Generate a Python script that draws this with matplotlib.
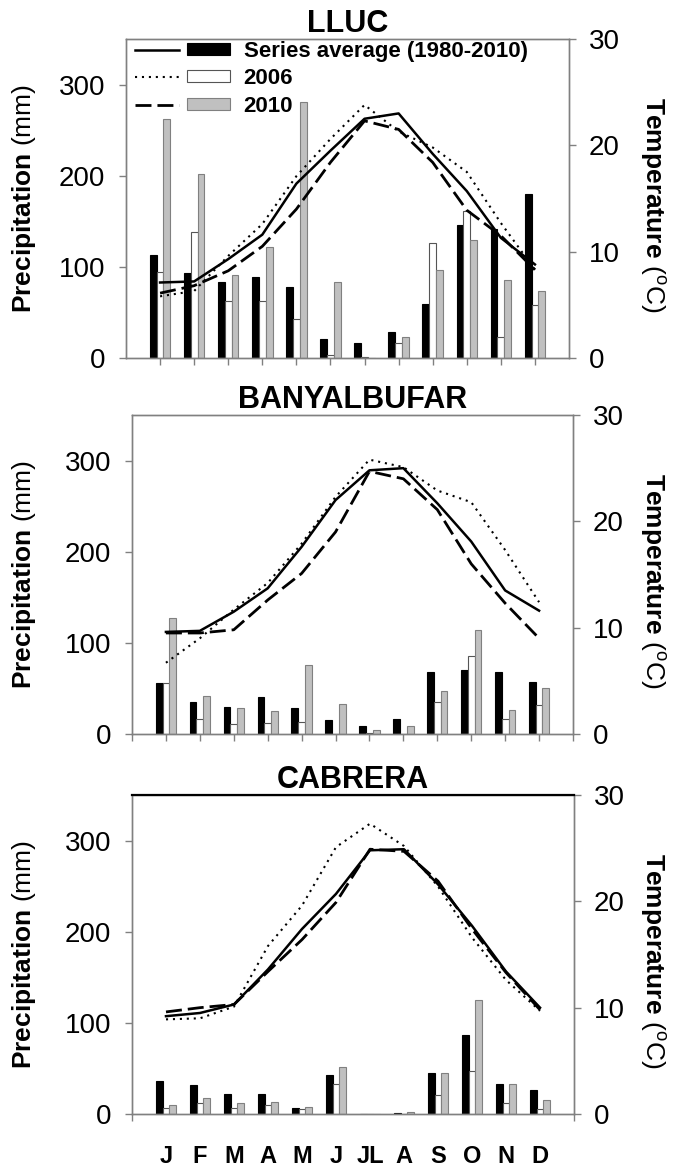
import numpy as np
import matplotlib
matplotlib.use("Agg")
import matplotlib.pyplot as plt
from matplotlib.patches import Patch
from matplotlib.lines import Line2D
from matplotlib.legend_handler import HandlerTuple

plt.rcParams['font.family'] = ['Liberation Sans', 'DejaVu Sans']
plt.rcParams['mathtext.fontset'] = 'custom'
plt.rcParams['mathtext.rm'] = 'Liberation Sans'
plt.rcParams['mathtext.bf'] = 'Liberation Sans:bold'
plt.rcParams['mathtext.it'] = 'Liberation Sans:italic'

months = ['J', 'F', 'M', 'A', 'M', 'J', 'JL', 'A', 'S', 'O', 'N', 'D']
stations = ['LLUC', 'BANYALBUFAR', 'CABRERA']
series_labels = ['Series average (1980-2010)', '2006', '2010']

# Precipitation (mm)
lluc_avg_p = [113, 93, 83, 89, 78, 21, 16, 29, 59, 146, 141, 180]
lluc_2006_p = [94, 138, 63, 62, 43, 3, 1, 17, 126, 161, 23, 58]
lluc_2010_p = [262, 202, 91, 122, 281, 83, 0.5, 23, 97, 129, 86, 74]
ban_avg_p = [56, 35, 30, 41, 28.5, 15, 9, 16.5, 68, 70.5, 68, 57.5]
ban_2006_p = [56, 17, 11, 12, 13.5, 0, 1, 0, 35, 85.5, 17, 31.5]
ban_2010_p = [127, 42, 28, 25, 76, 32.5, 4, 9, 47, 114.5, 26, 51]
cab_avg_p = [36, 32, 22.4, 21.7, 6.2, 43, 0, 1, 44.8, 86.3, 33, 26.8]
cab_2006_p = [7, 12, 7, 9.5, 5.5, 33, 0, 0, 20.6, 47, 12.5, 5]
cab_2010_p = [9.5, 18, 12.5, 13.6, 7.3, 51.4, 0, 1.8, 44.8, 124.9, 33, 15.8]

# Temperature (C)
lluc_avg_t = [7.1, 7.2, 9.3, 11.6, 16.4, 19.5, 22.5, 23.0, 19.2, 15.7, 11.3, 8.8]
lluc_2006_t = [5.8, 6.3, 9.6, 12.6, 17.1, 20.6, 23.8, 21.3, 19.8, 17.5, 12.7, 8.3]
lluc_2010_t = [6.1, 6.8, 8.2, 10.5, 14.0, 18.4, 22.3, 21.5, 18.4, 13.9, 11.5, 8.3]
ban_avg_t = [9.6, 9.7, 11.5, 13.7, 17.6, 22.0, 24.8, 25.0, 21.7, 18.1, 13.5, 11.6]
ban_2006_t = [6.7, 9.0, 11.7, 14.2, 17.9, 22.3, 25.8, 25.1, 22.9, 21.8, 17.3, 12.4]
ban_2010_t = [9.5, 9.5, 9.8, 12.6, 15.1, 19.0, 24.7, 24.0, 21.1, 16.0, 12.3, 9.0]
cab_avg_t = [9.2, 9.5, 10.3, 13.6, 17.4, 20.7, 24.8, 24.9, 21.6, 17.7, 13.4, 10.0]
cab_2006_t = [8.9, 9.0, 10.1, 15.8, 19.6, 25.1, 27.3, 25.2, 21.4, 16.6, 12.6, 9.7]
cab_2010_t = [9.6, 10.0, 10.3, 13.4, 16.4, 19.9, 24.9, 24.7, 21.9, 17.4, 13.3, 9.8]

precip = [(lluc_avg_p, lluc_2006_p, lluc_2010_p),
          (ban_avg_p, ban_2006_p, ban_2010_p),
          (cab_avg_p, cab_2006_p, cab_2010_p)]
temps = [(lluc_avg_t, lluc_2006_t, lluc_2010_t),
         (ban_avg_t, ban_2006_t, ban_2010_t),
         (cab_avg_t, cab_2006_t, cab_2010_t)]

W, H = 674, 1166
fig = plt.figure(figsize=(W / 100, H / 100), dpi=100)

# axes boxes in pixels: left, right, top, bottom
boxes = [(126, 569, 39, 358), (132, 573, 415, 734), (132, 574, 795, 1114)]

spine_col = '#808080'
x = np.arange(1, 13)
bw = 0.2
dot_style = dict(color='black', lw=1.5, dashes=(1, 2.33))
dash_style = dict(color='black', lw=2.0, dashes=(5.75, 2.15))
solid_style = dict(color='black', lw=1.8)

for i, (name, box) in enumerate(zip(stations, boxes)):
    l, r, t, b = box
    ax = fig.add_axes([l / W, 1 - b / H, (r - l) / W, (b - t) / H])
    avg_p, p06, p10 = precip[i]
    avg_t, t06, t10 = temps[i]
    ax.bar(x - bw, avg_p, bw, color='black', edgecolor='black', lw=0.8)
    ax.bar(x, p06, bw, color='white', edgecolor='#555555', lw=0.8)
    ax.bar(x + bw, p10, bw, color='#c0c0c0', edgecolor='#808080', lw=0.8)

    ax2 = ax.twinx()
    l1, = ax2.plot(x, avg_t, **solid_style)
    l2, = ax2.plot(x, t06, **dot_style)
    l3, = ax2.plot(x, t10, **dash_style)
    ax2.set_ylim(0, 30)
    ax2.set_yticks([0, 10, 20, 30])
    ax2.tick_params(axis='y', labelsize=20, length=5, width=1, color=spine_col, pad=9)

    ax.set_xlim(0, 13)
    ax.set_ylim(0, 350)
    ax.set_yticks([0, 100, 200, 300])
    ax.tick_params(axis='y', labelsize=20, length=5, width=1, color=spine_col, pad=10)
    if i == 2:
        ax.set_xticks(x)
        ax.set_xticklabels(months, fontsize=17, fontweight='bold')
        ax.tick_params(axis='x', which='major', length=0, pad=22)
        ax.set_xticks(np.arange(0, 14), minor=True)
        ax.tick_params(axis='x', which='minor', length=5, width=1, color=spine_col)
    else:
        ax.set_xticks(np.arange(0, 14) if i == 1 else x)
        ax.set_xticklabels([])
        ax.tick_params(axis='x', which='major', length=5, width=1, color=spine_col)
    ax.set_title(name, fontsize=22, fontweight='bold', pad=5)

    for a in (ax, ax2):
        for s in a.spines.values():
            s.set_color(spine_col)
            s.set_linewidth(1.0)
    if i == 2:
        ax2.spines['top'].set_color('black')
        ax2.spines['top'].set_linewidth(1.6)

    yc = 1 - (t + b) / 2 / H
    fig.text(24 / W, yc, r'$\mathbf{Precipitation}$ (mm)', rotation=90,
             ha='center', va='center', fontsize=19)
    fig.text(652 / W, yc - 6 / H, r'$\mathbf{Temperature}$ ($^{\mathrm{o}}$C)', rotation=-90,
             ha='center', va='center', fontsize=19)

    if i == 0:
        pa = Patch(facecolor='black', edgecolor='black', lw=0.8)
        pb = Patch(facecolor='white', edgecolor='#555555', lw=0.8)
        pc = Patch(facecolor='#c0c0c0', edgecolor='#808080', lw=0.8)
        la = Line2D([], [], **solid_style)
        lb = Line2D([], [], **dot_style)
        lc = Line2D([], [], **dash_style)
        leg = ax2.legend([(la, pa), (lb, pb), (lc, pc)], series_labels,
                         handler_map={tuple: HandlerTuple(ndivide=None, pad=0.36)},
                         loc='upper left', bbox_to_anchor=(0.02, 0.995),
                         frameon=False, borderaxespad=0, borderpad=0,
                         handlelength=4.3, handleheight=0.45, handletextpad=0.6,
                         labelspacing=0.3, prop={'size': 16, 'weight': 'bold'})

fig.savefig('out.png', dpi=100)
